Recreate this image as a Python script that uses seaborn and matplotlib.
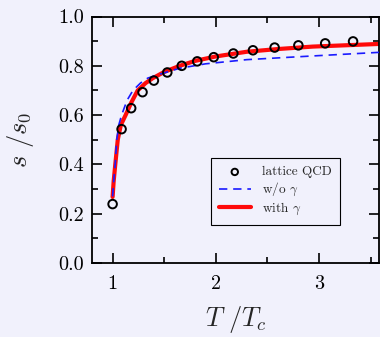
import matplotlib
matplotlib.use("Agg")
import matplotlib.pyplot as plt
import seaborn as sns
from matplotlib.ticker import MultipleLocator

# lattice QCD data
lat_x = [1.0, 1.087, 1.18, 1.29, 1.40, 1.53, 1.67, 1.82, 1.98, 2.17, 2.36, 2.57, 2.80, 3.06, 3.33]
lat_y = [0.239, 0.543, 0.628, 0.693, 0.740, 0.773, 0.800, 0.818, 0.835, 0.850, 0.863, 0.874, 0.883, 0.891, 0.899]

# model without gamma (blue dashed)
wo_x = [1.0, 1.01, 1.025, 1.04, 1.06, 1.087, 1.14, 1.197, 1.27, 1.34, 1.45, 1.65, 1.9, 2.3, 2.94, 3.6]
wo_y = [0.27, 0.33, 0.40, 0.50, 0.56, 0.60, 0.66, 0.70, 0.73, 0.75, 0.765, 0.79, 0.808, 0.825, 0.84, 0.855]

# model with gamma (red solid)
w_x = [1.0, 1.01, 1.026, 1.05, 1.08, 1.126, 1.18, 1.243, 1.32, 1.39, 1.5, 1.65, 1.8, 2.0, 2.3, 2.6, 2.94, 3.3, 3.6]
w_y = [0.268, 0.33, 0.40, 0.50, 0.56, 0.60, 0.65, 0.70, 0.73, 0.75, 0.775, 0.80, 0.82, 0.838, 0.857, 0.868, 0.878, 0.884, 0.889]

x_ticks = [1, 2, 3]
y_ticks = [0.0, 0.2, 0.4, 0.6, 0.8, 1.0]
labels = ["lattice QCD", r"w/o $\gamma$", r"with $\gamma$"]

bg = "#f1f1fc"
sns.set_theme(style="ticks")
plt.rcParams["font.family"] = ["cmr10", "DejaVu Serif"]
plt.rcParams["mathtext.fontset"] = "cm"
plt.rcParams["axes.formatter.use_mathtext"] = True

fig = plt.figure(figsize=(3.8, 3.37), dpi=100, facecolor=bg)
ax = fig.add_axes([0.242, 0.2196, 0.755, 0.7314])
ax.set_facecolor(bg)

sns.scatterplot(x=lat_x, y=lat_y, ax=ax, marker="o", s=38, facecolor="none",
                edgecolor="black", linewidth=1.4, label=labels[0], zorder=4)
sns.lineplot(x=wo_x, y=wo_y, ax=ax, color="#1a1aff", lw=1.2, dashes=False,
             label=labels[1], zorder=3)
ax.lines[-1].set_dashes([5, 3.5])
sns.lineplot(x=w_x, y=w_y, ax=ax, color="#ff0a0a", lw=3.0, label=labels[2], zorder=2)

ax.set_xlim(0.8, 3.58)
ax.set_ylim(0.0, 1.0)
ax.set_xticks(x_ticks)
ax.set_yticks(y_ticks)
ax.set_xticklabels([str(v) for v in x_ticks])
ax.set_yticklabels([f"{v:.1f}" for v in y_ticks])
ax.xaxis.set_minor_locator(MultipleLocator(0.5))
ax.yaxis.set_minor_locator(MultipleLocator(0.1))
ax.tick_params(which="both", direction="in", top=True, right=True, colors="black",
               width=1.2, labelsize=14.5)
ax.tick_params(which="major", length=7)
ax.tick_params(which="minor", length=4)
ax.tick_params(axis="y", which="major", pad=6)
ax.tick_params(axis="x", which="major", pad=9)
for sp in ax.spines.values():
    sp.set_linewidth(1.3)
    sp.set_color("black")

ax.set_xlabel(r"$T\ /T_c$", fontsize=19)
ax.set_ylabel(r"$s\ /s_0$", fontsize=19)
ax.xaxis.set_label_coords(0.5, -0.168)
ax.yaxis.set_label_coords(-0.195, 0.5)

h, l = ax.get_legend_handles_labels()
leg = ax.legend(h, l, loc="upper left", bbox_to_anchor=(0.415, 0.425), borderaxespad=0,
                fontsize=9.5, frameon=True, fancybox=False, edgecolor="black", facecolor=bg,
                framealpha=1, handlelength=2.4, borderpad=0.6, labelspacing=0.2,
                handletextpad=0.9, markerscale=0.75)
leg.get_frame().set_linewidth(0.8)

fig.savefig("out.png", dpi=100, facecolor=bg)
